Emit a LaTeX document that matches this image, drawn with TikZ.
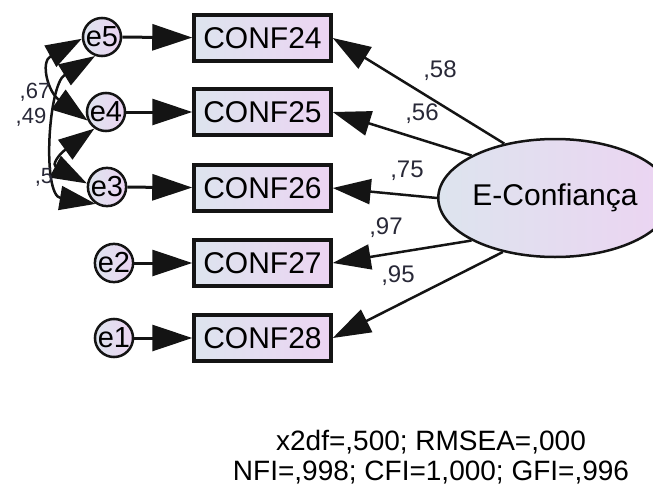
\documentclass[tikz,border=0pt]{standalone}
\usepackage{fontspec}
\setmainfont{Liberation Sans}
\usetikzlibrary{shapes.geometric,arrows.meta}
\definecolor{gradL}{RGB}{221,228,238}
\definecolor{gradR}{RGB}{236,212,242}
\definecolor{edge}{RGB}{20,20,20}
\definecolor{lbl}{RGB}{40,40,55}
\tikzset{
  obs/.style={rectangle, draw=edge, line width=3.5pt, left color=gradL, right color=gradR,
    minimum width=137pt, minimum height=46pt, inner sep=0pt,
    font=\fontsize{30}{32}\selectfont},
  err/.style={circle, draw=edge, line width=2.5pt, left color=gradL, right color=gradR,
    minimum size=36pt, inner sep=0pt, font=\fontsize{29}{30}\selectfont},
  lat/.style={ellipse, draw=edge, line width=2.5pt, left color=gradL, right color=gradR,
    minimum width=213pt, minimum height=118pt, inner sep=0pt,
    font=\fontsize{30}{32}\selectfont},
  errpath/.style={line width=3pt, draw=edge, -{Triangle[length=40pt,width=26pt]}},
  load/.style={line width=2.5pt, draw=edge, -{Triangle[length=38pt,width=25pt]}},
  cov/.style={line width=2.5pt, draw=edge, {Triangle[length=36pt,width=24pt]}-{Triangle[length=36pt,width=24pt]}},
  coef/.style={inner sep=0pt, text=lbl, font=\fontsize{24}{26}\selectfont},
  corr/.style={inner sep=0pt, text=lbl, font=\fontsize{22}{24}\selectfont},
  fit/.style={inner sep=0pt, align=center, font=\fontsize{28}{30}\selectfont}
}
\begin{document}
\begin{tikzpicture}[x=1pt,y=-1pt]
\useasboundingbox (0,0) rectangle (653,487);
\clip (0,0) rectangle (653,487);
% observed
\node[obs] (c24) at (262.5,38) {CONF24};
\node[obs] (c25) at (262.5,112) {CONF25};
\node[obs] (c26) at (262.5,188) {CONF26};
\node[obs] (c27) at (262.5,263) {CONF27};
\node[obs] (c28) at (262.5,338) {CONF28};
% errors
\node[err] (e5) at (102,37) {e5};
\node[err] (e4) at (106,112) {e4};
\node[err] (e3) at (107,187) {e3};
\node[err] (e2) at (114,263) {e2};
\node[err] (e1) at (114,338) {e1};
% latent
\node[lat] (E) at (555,198) {E-Confiança};
% error paths
\draw[errpath] (e5) -- (c24);
\draw[errpath] (e4) -- (c25);
\draw[errpath] (e3) -- (c26);
\draw[errpath] (e2) -- (c27);
\draw[errpath] (e1) -- (c28);
% loadings
\draw[load] (E.133) -- (c24.east);
\draw[load] (E.153) -- (c25.east);
\draw[load] (E.180) -- (c26.east);
\draw[load] (E.207) -- (c27.east);
\draw[load] (E.226) -- (c28.east);
% covariances
\draw[cov] (e5.185) .. controls (40,62) and (48,92) .. (e4.205);
\draw[cov] (e5.250) .. controls (48,85) and (42,195) .. (e3.236);
\draw[cov] (e4.235) .. controls (58,155) and (52,165) .. (e3.170);
% coefficients
\node[coef] (l58) at (440,71) {,58};
\node[coef] (l56) at (422,114) {,56};
\node[coef] (l75) at (407,171) {,75};
\node[coef] (l97) at (386,228) {,97};
\node[coef] (l95) at (398,276) {,95};
\node[corr] (r67) at (35,92) {,67};
\node[corr] (r49) at (31,117) {,49};
\node[corr] (r5) at (44,177) {,5};
% fit
\node[fit] (fitidx) at (431,457) {x2df=,500; RMSEA=,000\\NFI=,998; CFI=1,000; GFI=,996};
\end{tikzpicture}
\end{document}
